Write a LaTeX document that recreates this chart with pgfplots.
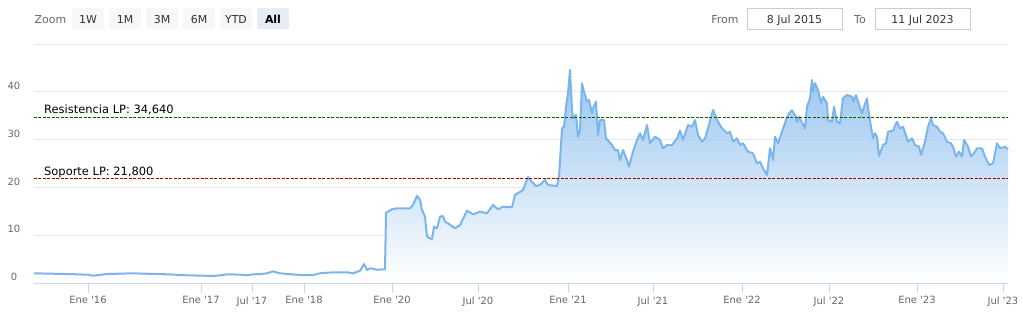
\documentclass[border=0pt]{standalone}
\usepackage{fontspec}
\setmainfont{DejaVu Sans}
\usepackage{pgfplots}
\usepackage{pgfplotstable}
\pgfplotsset{compat=1.18}
\definecolor{hcblue}{HTML}{7CB5EC}
\definecolor{gridc}{HTML}{E6E6E6}
\definecolor{axisc}{HTML}{CCD6EB}
\definecolor{labc}{HTML}{666666}
\definecolor{txtc}{HTML}{333333}
\definecolor{btn}{HTML}{F7F7F7}
\definecolor{btnsel}{HTML}{E6EBF5}
\definecolor{boxc}{HTML}{CCCCCC}
\definecolor{resc}{HTML}{006400}
\definecolor{supc}{HTML}{B00000}
\pgfplotstableread{
x v
34 2.03
50 1.95
67 1.88
88 1.74
93 1.53
107 1.88
120 1.95
133 2.03
143 1.95
155 1.90
167 1.82
187 1.61
200 1.55
213 1.46
220 1.60
227 1.82
240 1.75
247 1.61
253 1.82
260 1.85
267 2.03
273 2.45
280 2.03
290 1.85
300 1.67
313 1.67
320 2.03
333 2.24
347 2.24
353 2.03
360 2.57
364 3.97
367 2.72
370 3.08
377 2.78
385 2.87
386 14.71
392 15.42
397 15.63
410 15.63
413 16.32
417 18.26
420 17.36
422 15.27
425 13.87
427 9.69
430 9.35
432 9.14
434 11.78
437 11.44
440 13.87
443 14.02
445 12.82
448 12.49
455 11.44
460 12.13
467 15.13
473 14.37
480 14.92
487 14.58
493 16.32
498 15.42
503 15.96
512 15.84
515 18.41
523 19.46
528 22.18
532 21.13
536 20.29
540 20.50
545 21.55
548 20.50
557 20.29
559 22.24
562 32.36
564 32.70
566 36.88
568 39.69
570 44.56
572 36.19
573 34.46
576 35.15
578 30.61
580 32.01
582 41.78
584 40.02
587 37.93
589 38.28
592 35.50
593 36.55
596 37.93
598 30.96
600 34.10
604 34.10
606 30.27
612 28.87
615 27.82
618 27.82
620 25.73
623 27.82
627 25.73
629 24.33
633 27.47
637 29.92
640 31.32
643 29.92
647 33.05
650 29.23
655 30.61
660 29.92
663 28.18
667 28.87
672 28.87
677 30.27
680 31.86
683 29.92
688 33.05
692 32.70
695 34.10
698 30.96
702 29.56
705 30.27
708 32.36
713 36.19
718 33.74
722 32.36
727 31.32
730 31.65
733 29.56
737 30.27
740 28.87
743 29.23
748 27.47
753 27.13
757 25.04
760 25.38
763 24.00
767 22.59
770 28.18
773 25.73
775 30.60
778 29.23
782 31.65
786 34.10
789 35.50
792 36.13
795 35.15
797 33.68
799 34.79
805 32.36
807 36.88
810 38.64
812 42.47
813 40.02
815 41.78
818 40.38
821 37.59
823 38.97
827 37.59
828 34.10
832 33.74
834 36.88
837 33.74
840 33.41
843 38.64
847 39.33
852 38.97
853 37.93
856 39.33
858 37.93
862 35.50
864 36.88
867 38.64
869 35.15
873 30.27
875 31.32
877 30.61
879 26.57
883 28.87
886 29.23
888 31.65
893 31.86
897 33.74
900 32.36
903 32.70
908 29.56
912 30.27
915 28.87
919 28.51
921 26.78
925 29.56
928 32.70
931 34.46
933 33.05
937 32.70
940 31.65
943 31.32
947 29.56
951 29.23
953 28.51
956 26.42
959 27.47
962 26.42
964 29.92
968 28.51
971 26.42
975 27.47
977 28.18
982 28.18
985 26.42
989 24.69
993 25.04
997 29.23
1000 28.18
1005 28.51
1008 27.97
}\pricedata
\begin{document}
\begin{tikzpicture}[x=1bp,y=1bp]
\path[use as bounding box] (-34,-35) rectangle (989,283);
% range selector
\node[anchor=base, text=labc, font=\fontsize{11}{13}\selectfont, inner sep=0] at (16.5,259.7) {Zoom};
\foreach \cx/\lab/\fc in {54/1W/btn,91/1M/btn,128/3M/btn,165/6M/btn,202/YTD/btn}{
  \fill[\fc, rounded corners=2bp] (\cx-16,254) rectangle (\cx+16,275);
  \node[anchor=base, text=txtc, font=\fontsize{11}{13}\selectfont, inner sep=0] at (\cx,259.7) {\lab};
}
\fill[btnsel, rounded corners=2bp] (223,254) rectangle (255,275);
\node[anchor=base, text=black, font=\fontsize{11}{13}\selectfont\bfseries, inner sep=0] at (239,259.7) {All};
\node[anchor=base, text=labc, font=\fontsize{11}{13}\selectfont, inner sep=0] at (691,259.7) {From};
\draw[boxc, line width=0.8bp] (713,253.7) rectangle (808,274.7);
\node[anchor=base, text=txtc, font=\fontsize{11}{13}\selectfont, inner sep=0] at (760.5,259.7) {8 Jul 2015};
\node[anchor=base, text=labc, font=\fontsize{11}{13}\selectfont, inner sep=0] at (826,259.7) {To};
\draw[boxc, line width=0.8bp] (841,253.7) rectangle (936,274.7);
\node[anchor=base, text=txtc, font=\fontsize{11}{13}\selectfont, inner sep=0] at (888.5,259.7) {11 Jul 2023};
\begin{axis}[at={(0,0)}, anchor=south west, scale only axis,
  width=974bp, height=239bp,
  xmin=34, xmax=1008, ymin=0, ymax=50,
  axis x line*=bottom, axis y line*=left,
  y axis line style={draw=none},
  x axis line style={axisc, line width=1bp},
  ytick={0,10,20,30,40,50}, yticklabels={0,10,20,30,40,{}},
  ytick style={draw=none},
  ymajorgrids, grid style={gridc, line width=1bp},
  yticklabel style={anchor=center, xshift=-10bp, yshift=6bp, text=labc, font=\fontsize{10}{12}\selectfont},
  xtick={88,201,252,304,392,478,568,653,742,829,917,1003},
  xticklabels={Ene \textquotesingle16,Ene \textquotesingle17,Jul \textquotesingle17,Ene \textquotesingle18,Ene \textquotesingle20,Jul \textquotesingle20,Ene \textquotesingle21,Jul \textquotesingle21,Ene \textquotesingle22,Jul \textquotesingle22,Ene \textquotesingle23,Jul \textquotesingle23},
  tick align=outside, major tick length=10bp,
  xtick style={axisc, line width=1bp},
  xticklabel style={text=labc, font=\fontsize{10}{12}\selectfont},
  clip=false,
]
\addplot[draw=none, top color=hcblue, bottom color=white, fill opacity=0.78] table[x=x,y=v] {\pricedata} \closedcycle;
\addplot[hcblue, line width=2bp, line join=round] table[x=x,y=v] {\pricedata};
\addplot[resc, line width=0.9bp, dash pattern=on 3bp off 1.5bp] coordinates {(34,34.64) (1008,34.64)};
\addplot[supc, line width=0.9bp, dash pattern=on 3bp off 1.5bp] coordinates {(34,21.8) (1008,21.8)};
\node[anchor=base west, inner sep=0, yshift=3.5bp, font=\fontsize{11.5}{13}\selectfont] at (axis cs:44,34.64) {Resistencia LP: 34,640};
\node[anchor=base west, inner sep=0, yshift=3.5bp, font=\fontsize{11.5}{13}\selectfont] at (axis cs:44,21.8) {Soporte LP: 21,800};
\draw[axisc, line width=1bp] (rel axis cs:0,0) -- (rel axis cs:1,0);
\end{axis}
\end{tikzpicture}
\end{document}
